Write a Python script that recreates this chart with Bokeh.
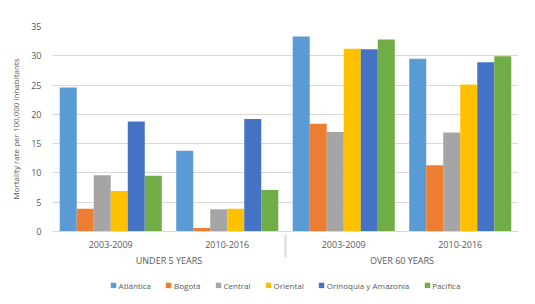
from bokeh.plotting import figure
from bokeh.models import FactorRange, ColumnDataSource, Legend, LegendItem, Range1d
from bokeh.layouts import column
from bokeh.transform import dodge
from bokeh.embed import file_html
from bokeh.resources import INLINE

groups = ["UNDER 5 YEARS", "OVER 60 YEARS"]
periods = ["2003-2009", "2010-2016"]
regions = ["Atlántica", "Bogotá", "Central", "Oriental", "Orinoquía y Amazonía", "Pacífica"]
colors = ["#5B9BD5", "#ED7D31", "#A5A5A5", "#FFC000", "#4472C4", "#70AD47"]

# values per region, order: U5 2003-2009, U5 2010-2016, O60 2003-2009, O60 2010-2016
atlantica = [24.6, 13.8, 33.3, 29.5]
bogota = [3.9, 0.6, 18.4, 11.3]
central = [9.6, 3.8, 17.0, 16.9]
oriental = [6.9, 3.9, 31.2, 25.1]
orinoquia = [18.8, 19.2, 31.1, 28.9]
pacifica = [9.5, 7.1, 32.8, 29.9]
yticks = [0, 5, 10, 15, 20, 25, 30, 35]

values = [atlantica, bogota, central, oriental, orinoquia, pacifica]
factors = [(g, p) for g in groups for p in periods]

data = {"x": factors}
for i, v in enumerate(values):
    data["s%d" % i] = v
src = ColumnDataSource(data)

xr = FactorRange(*factors, group_padding=0, factor_padding=0, range_padding=0)
p = figure(x_range=xr, y_range=(0, 35), width=527, height=276,
           output_backend="svg", toolbar_location=None,
           min_border_left=52, min_border_right=9, min_border_top=26, min_border_bottom=45)

# legend strip: invisible (zero-size) copies of the bars, only used for the legend swatches
lf = figure(x_range=xr, y_range=Range1d(-20, -10), width=527, height=18,
            output_backend="svg", toolbar_location=None,
            x_axis_location=None, y_axis_location=None,
            min_border_left=0, min_border_right=0, min_border_top=0, min_border_bottom=0)
lf.outline_line_color = None
lf.xgrid.grid_line_color = None
lf.ygrid.grid_line_color = None

bw = 0.146
items = []
for i, (name, c) in enumerate(zip(regions, colors)):
    off = (i - 2.5) * bw
    col = "s%d" % i
    p.vbar(x=dodge("x", off, range=p.x_range), top=col, width=bw,
           source=src, color=c, line_color=None)
    r = lf.vbar(x=dodge("x", off, range=xr), top=col, bottom=col, width=0,
                source=src, color=c, line_color=None)
    items.append(LegendItem(label=name, renderers=[r]))

font = "Open Sans"
txt = "#595959"
p.outline_line_color = None
p.xgrid.grid_line_color = None
p.ygrid.grid_line_color = "#D9D9D9"
p.yaxis.ticker = yticks
p.yaxis.axis_line_color = None
p.yaxis.major_tick_line_color = None
p.yaxis.minor_tick_line_color = None
p.yaxis.major_label_text_font = font
p.yaxis.major_label_text_font_size = "9px"
p.yaxis.major_label_text_color = txt
p.yaxis.axis_label = "Mortality rate per 100,000 inhabitants"
p.yaxis.axis_label_text_font = font
p.yaxis.axis_label_text_font_size = "8px"
p.yaxis.axis_label_text_font_style = "normal"
p.yaxis.axis_label_text_color = txt
p.yaxis.axis_label_standoff = 7

p.xaxis.axis_line_color = "#D9D9D9"
p.xaxis.major_tick_line_color = None
p.xaxis.minor_tick_line_color = None
p.xaxis.major_label_text_font = font
p.xaxis.major_label_text_font_size = "9px"
p.xaxis.major_label_text_color = txt
p.xaxis.major_label_standoff = 3
p.xaxis.group_text_font = font
p.xaxis.group_text_font_size = "9px"
p.xaxis.group_text_font_style = "normal"
p.xaxis.group_text_color = txt
p.xaxis.separator_line_color = "#D9D9D9"

legend = Legend(items=items, orientation="horizontal", location="center",
                label_text_font=font, label_text_font_size="8px",
                label_text_color=txt, glyph_width=7, glyph_height=7,
                label_standoff=2, spacing=14, padding=2, margin=0,
                label_height=10, border_line_color=None, background_fill_alpha=0)
lf.add_layout(legend)

layout = column(p, lf, spacing=0)
open("out.html", "w").write(file_html(layout, INLINE))
